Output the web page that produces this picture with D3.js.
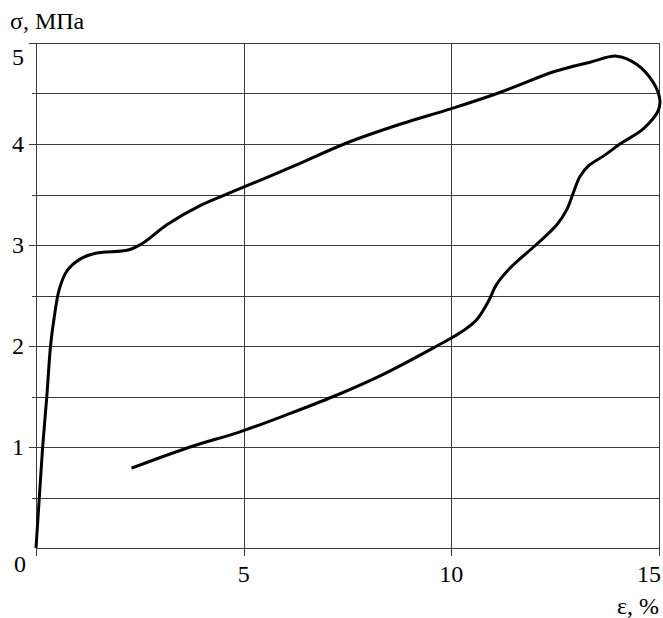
<!DOCTYPE html>
<html>
<head>
<meta charset="utf-8">
<script src="https://cdn.jsdelivr.net/npm/d3@7"></script>
<style>
  html, body { margin: 0; padding: 0; background: #fff; }
  text { font-family: "Liberation Serif", "Times New Roman", serif; fill: #000; }
</style>
</head>
<body>
<div id="chart"></div>
<script>
// strain, % (along the loop)
var strain = [0, 0.08, 0.16, 0.26, 0.35, 0.43, 0.56, 0.74, 1.06, 1.46, 2.22, 2.58, 3.15, 3.95, 4.75,
  6.2, 7.48, 8.8, 10.0, 11.17, 12.5, 13.34, 13.98, 14.46, 14.86, 15.02, 14.98, 14.62, 14.06,
  13.66, 13.32, 13.1, 12.94, 12.78, 12.54, 12.06, 11.41, 11.09, 10.89, 10.61, 10.21, 9.65,
  8.36, 7.16, 6.04, 4.91, 3.71, 2.30];
// stress, MPa
var stress = [0, 0.5, 1.0, 1.5, 2.0, 2.26, 2.56, 2.74, 2.86, 2.92, 2.95, 3.02, 3.20, 3.39, 3.53,
  3.78, 4.01, 4.20, 4.35, 4.51, 4.72, 4.81, 4.87, 4.79, 4.61, 4.44, 4.33, 4.15, 4.00,
  3.88, 3.79, 3.68, 3.52, 3.35, 3.20, 3.01, 2.77, 2.61, 2.44, 2.26, 2.13, 2.00,
  1.72, 1.50, 1.32, 1.15, 1.0, 0.79];

var xTicks = [0, 5, 10, 15];
var yTicks = [0, 1, 2, 3, 4, 5];
var yMinor = [0.5, 1.5, 2.5, 3.5, 4.5];

var W = 663, H = 618;
var margin = {top: 43, right: 4, bottom: 70, left: 36};
var width = W - margin.left - margin.right,
    height = H - margin.top - margin.bottom;

var x = d3.scaleLinear().domain([0, 15]).range([0, width]);
var y = d3.scaleLinear().domain([0, 5]).range([height, 0]);

var svg = d3.select("#chart").append("svg")
  .attr("width", W).attr("height", H);
svg.append("rect").attr("width", W).attr("height", H).attr("fill", "#fff");

var g = svg.append("g").attr("transform", "translate(" + margin.left + "," + margin.top + ")");

// horizontal grid (major + minor) with left ticks
g.selectAll(".hgrid")
  .data(yTicks.concat(yMinor))
  .enter().append("line")
    .attr("x1", function(d) { return yTicks.indexOf(d) >= 0 && d > 0 ? -7 : (d === 0 ? 0 : -4); })
    .attr("x2", width)
    .attr("y1", function(d) { return Math.round(y(d)) + 0.5; })
    .attr("y2", function(d) { return Math.round(y(d)) + 0.5; })
    .attr("stroke", "#3a3a3a").attr("stroke-width", 1);

// vertical grid with bottom ticks
g.selectAll(".vgrid")
  .data(xTicks)
  .enter().append("line")
    .attr("x1", function(d) { return Math.round(x(d)) + 0.5; })
    .attr("x2", function(d) { return Math.round(x(d)) + 0.5; })
    .attr("y1", 0)
    .attr("y2", height + 8)
    .attr("stroke", "#3a3a3a").attr("stroke-width", 1);

// y tick labels
g.selectAll(".ylab")
  .data(yTicks.filter(function(d) { return d > 0; }))
  .enter().append("text")
    .attr("x", -12)
    .attr("y", function(d) { return d === 5 ? y(d) + 22 : y(d) + 8; })
    .attr("text-anchor", "end")
    .style("font-size", "24px")
    .text(function(d) { return d; });

// corner zero
g.append("text")
  .attr("x", -10).attr("y", height + 24)
  .attr("text-anchor", "end")
  .style("font-size", "24px")
  .text("0");

// x tick labels
g.selectAll(".xlab")
  .data(xTicks.filter(function(d) { return d > 0; }))
  .enter().append("text")
    .attr("x", function(d) { return d === 15 ? x(d) + 2 : x(d); })
    .attr("y", height + 34)
    .attr("text-anchor", function(d) { return d === 15 ? "end" : "middle"; })
    .style("font-size", "24px")
    .text(function(d) { return d; });

// axis titles
svg.append("text")
  .attr("x", 10).attr("y", 29)
  .style("font-size", "24px")
  .text("σ, МПа");

svg.append("text")
  .attr("x", 659).attr("y", 614)
  .attr("text-anchor", "end")
  .style("font-size", "24px")
  .text("ε, %");

// curve
var pts = strain.map(function(d, i) { return [d, stress[i]]; });
var line = d3.line()
  .x(function(d) { return x(d[0]); })
  .y(function(d) { return y(d[1]); })
  .curve(d3.curveCatmullRom.alpha(0.5));

g.append("path")
  .datum(pts)
  .attr("d", line)
  .attr("fill", "none")
  .attr("stroke", "#000")
  .attr("stroke-width", 3)
  .attr("stroke-linejoin", "round")
  .attr("stroke-linecap", "butt");
</script>
</body>
</html>
